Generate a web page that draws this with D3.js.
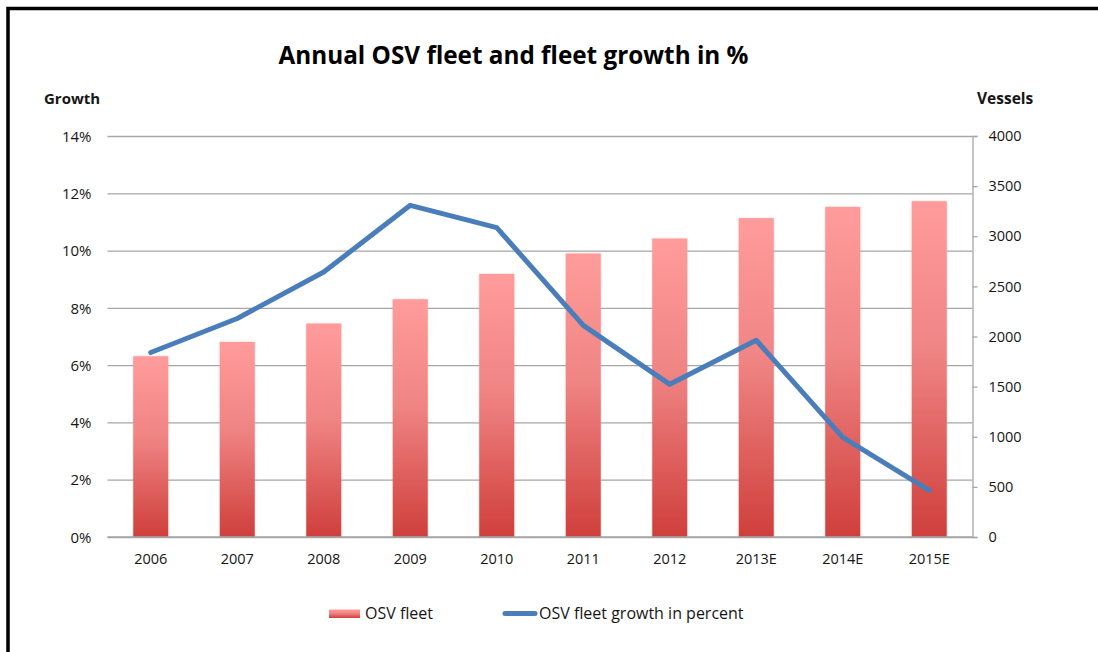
<!DOCTYPE html>
<html>
<head>
<meta charset="utf-8">
<script src="https://cdn.jsdelivr.net/npm/d3@7/dist/d3.min.js"></script>
<style>
  html, body { margin: 0; padding: 0; background: #fff; }
  svg { display: block; font-family: "Open Sans", Lato, sans-serif; }
</style>
</head>
<body>
<svg id="chart" width="1098" height="652"></svg>
<script>
// Annual OSV fleet (vessels) and year-on-year fleet growth
const years = ["2006", "2007", "2008", "2009", "2010", "2011", "2012", "2013E", "2014E", "2015E"];
const fleet = [1803, 1946, 2129, 2372, 2624, 2828, 2977, 3181, 3293, 3350];
const growth = [6.44, 7.63, 9.25, 11.58, 10.80, 7.39, 5.33, 6.87, 3.48, 1.63];
const growthTicks = [0, 2, 4, 6, 8, 10, 12, 14];
const vesselTicks = [0, 500, 1000, 1500, 2000, 2500, 3000, 3500, 4000];

const svg = d3.select("#chart");
const plot = { left: 107.5, right: 972.5, top: 136, bottom: 537 };
const textColor = "#161616";
const font = "'Open Sans', sans-serif";

// outer frame
svg.append("rect")
  .attr("x", 8).attr("y", 8.5)
  .attr("width", 1200).attr("height", 700)
  .attr("fill", "none").attr("stroke", "#000").attr("stroke-width", 3.5);

const x = d3.scaleBand().domain(years).range([plot.left, plot.right]).padding(0);
const yGrowth = d3.scaleLinear().domain([0, 14]).range([plot.bottom, plot.top]);
const yFleet = d3.scaleLinear().domain([0, 4000]).range([plot.bottom, plot.top]);

// bar gradient
const defs = svg.append("defs");
const grad = defs.append("linearGradient")
  .attr("id", "barFill").attr("x1", 0).attr("y1", 0).attr("x2", 0).attr("y2", 1);
grad.append("stop").attr("offset", "0%").attr("stop-color", "#ff9c9b");
grad.append("stop").attr("offset", "45%").attr("stop-color", "#ef8483");
grad.append("stop").attr("offset", "100%").attr("stop-color", "#cf3f3b");

const glow = defs.append("filter").attr("id", "soft")
  .attr("x", "-20%").attr("y", "-5%").attr("width", "140%").attr("height", "110%");
glow.append("feGaussianBlur").attr("in", "SourceAlpha").attr("stdDeviation", 1.2).attr("result", "b");
glow.append("feFlood").attr("flood-color", "#d8a0a0").attr("flood-opacity", 0.45);
glow.append("feComposite").attr("in2", "b").attr("operator", "in").attr("result", "s");
const merge = glow.append("feMerge");
merge.append("feMergeNode").attr("in", "s");
merge.append("feMergeNode").attr("in", "SourceGraphic");

// horizontal gridlines from the growth axis
const gridAxis = d3.axisLeft(yGrowth).tickValues(growthTicks)
  .tickSize(-(plot.right - plot.left)).tickFormat("");
svg.append("g").attr("transform", `translate(${plot.left},0)`).call(gridAxis)
  .call(g => g.select(".domain").remove())
  .call(g => g.selectAll("line").attr("stroke", "#a6a6a6").attr("stroke-width", 1.3));

// left growth labels
const leftAxis = d3.axisLeft(yGrowth).tickValues(growthTicks).tickSize(0).tickPadding(16)
  .tickFormat(d => d + "%");
svg.append("g").attr("transform", `translate(${plot.left},0)`).call(leftAxis)
  .call(g => g.select(".domain").remove())
  .call(g => g.selectAll("text").attr("font-size", 15).attr("fill", textColor)
    .attr("font-family", font).attr("dy", "0.35em"));

// bars
const barFrac = 0.405;
svg.append("g").selectAll("rect").data(years).join("rect")
  .attr("x", (d, i) => x(d) + x.bandwidth() * (1 - barFrac) / 2)
  .attr("width", x.bandwidth() * barFrac)
  .attr("y", (d, i) => yFleet(fleet[i]))
  .attr("height", (d, i) => yFleet(0) - yFleet(fleet[i]))
  .attr("fill", "url(#barFill)")
  .attr("filter", "url(#soft)");

// baseline redraw over bars
svg.append("line")
  .attr("x1", plot.left).attr("x2", plot.right)
  .attr("y1", yGrowth(0)).attr("y2", yGrowth(0))
  .attr("stroke", "#a6a6a6").attr("stroke-width", 1.3);

// right vessel axis
const rightAxis = d3.axisRight(yFleet).tickValues(vesselTicks).tickSize(5).tickPadding(11)
  .tickFormat(d3.format("d"));
svg.append("g").attr("transform", `translate(${plot.right},0)`).call(rightAxis)
  .call(g => g.select(".domain").attr("stroke", "#a6a6a6").attr("stroke-width", 1.3))
  .call(g => g.selectAll("line").attr("stroke", "#a6a6a6").attr("stroke-width", 1.3))
  .call(g => g.selectAll("text").attr("font-size", 14.5).attr("fill", textColor)
    .attr("font-family", font));

// x labels
const xAxis = d3.axisBottom(x).tickSize(0).tickPadding(0);
svg.append("g").attr("transform", `translate(0,${plot.bottom})`).call(xAxis)
  .call(g => g.select(".domain").remove())
  .call(g => g.selectAll("text").attr("font-size", 14.5).attr("fill", textColor)
    .attr("font-family", font).attr("y", 0).attr("dy", 26.5));

// growth line
const line = d3.line()
  .x((d, i) => x(years[i]) + x.bandwidth() / 2)
  .y(d => yGrowth(d));
svg.append("path").datum(growth)
  .attr("d", line)
  .attr("fill", "none")
  .attr("stroke", "#4a7ebb")
  .attr("stroke-width", 5)
  .attr("stroke-linejoin", "round")
  .attr("stroke-linecap", "round");

// title and axis titles
svg.append("text").attr("x", 513.5).attr("y", 64).attr("text-anchor", "middle")
  .attr("font-size", 24.3).attr("font-weight", "bold").attr("fill", "#000")
  .text("Annual OSV fleet and fleet growth in %");
svg.append("text").attr("x", 44).attr("y", 104)
  .attr("font-size", 15).attr("font-weight", "bold").attr("fill", textColor)
  .text("Growth");
svg.append("text").attr("x", 977).attr("y", 104)
  .attr("font-size", 15.5).attr("font-weight", "bold").attr("fill", textColor)
  .text("Vessels");

// legend
const legend = svg.append("g");
legend.append("rect").attr("x", 329).attr("y", 609.5).attr("width", 31).attr("height", 8.5)
  .attr("fill", "url(#barFill)");
legend.append("text").attr("x", 365).attr("y", 619).attr("font-size", 16).attr("fill", textColor)
  .text("OSV fleet");
legend.append("line").attr("x1", 505).attr("x2", 535).attr("y1", 613.5).attr("y2", 613.5)
  .attr("stroke", "#4a7ebb").attr("stroke-width", 5).attr("stroke-linecap", "round");
legend.append("text").attr("x", 539).attr("y", 619).attr("font-size", 16).attr("fill", textColor)
  .text("OSV fleet growth in percent");
</script>
</body>
</html>
